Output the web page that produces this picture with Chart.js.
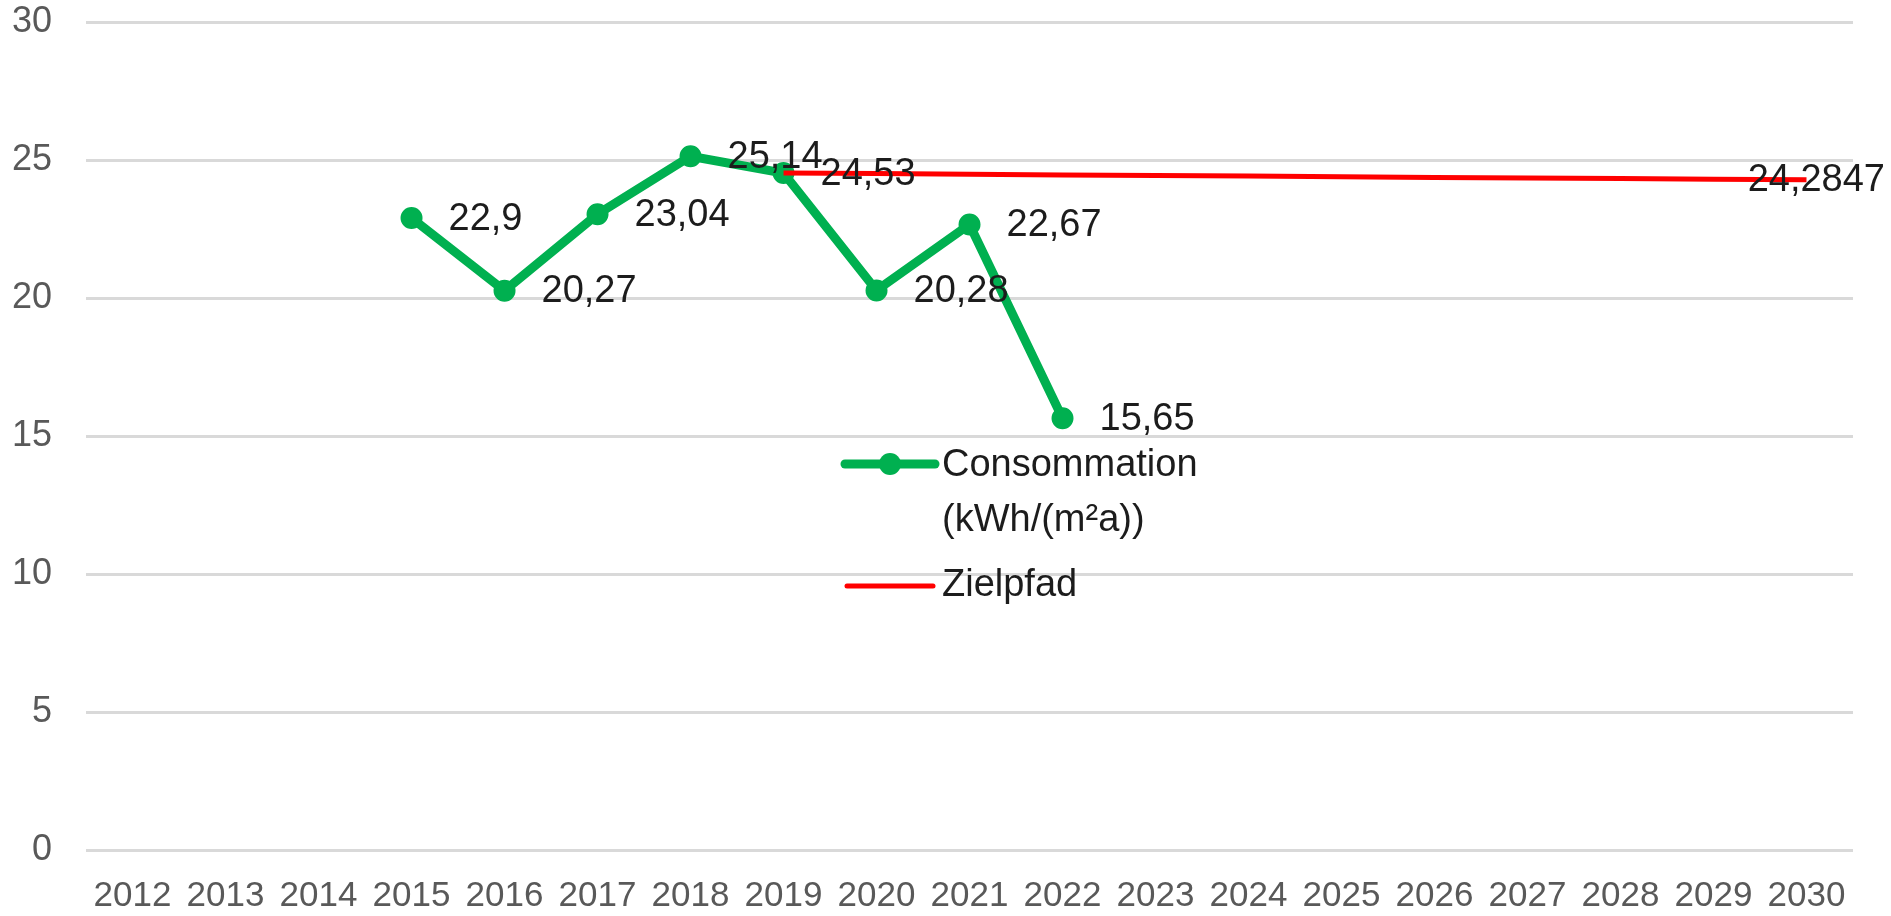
<!DOCTYPE html>
<html>
<head>
<meta charset="utf-8">
<title>Consommation</title>
<script src="https://cdn.jsdelivr.net/npm/chart.js@4.4.1/dist/chart.umd.min.js"></script>
<style>
    html, body { margin: 0; padding: 0; background: #ffffff; overflow: hidden; }
    #wrap { width: 1891px; height: 916px; position: relative; }
</style>
</head>
<body>
<div id="wrap"><canvas id="mainChart"></canvas></div>
<script>
"use strict";

const anos = ["2012", "2013", "2014", "2015", "2016", "2017", "2018", "2019", "2020", "2021",
    "2022", "2023", "2024", "2025", "2026", "2027", "2028", "2029", "2030"];

const consommation = [null, null, null, 22.9, 20.27, 23.04, 25.14, 24.53, 20.28, 22.67,
    15.65, null, null, null, null, null, null, null, null];

const zielpfad = [null, null, null, null, null, null, null, 24.53, 24.51, 24.49,
    24.46, 24.44, 24.42, 24.4, 24.37, 24.35, 24.33, 24.31, 24.2847];

// which points of each series get a value label
const labelsConsommation = [false, false, false, true, true, true, true, true, true, true,
    true, false, false, false, false, false, false, false, false];
const labelsZielpfad = [false, false, false, false, false, false, false, false, false, false,
    false, false, false, false, false, false, false, false, true];

const yTicks = [0, 5, 10, 15, 20, 25, 30];

const legendConsommation = ["Consommation", "(kWh/(m²a))"];
const legendZielpfad = ["Zielpfad"];

const verde = "#00b050";
const vermelho = "#ff0000";
const fonte = "'Liberation Sans', Arial, sans-serif";

const ctxMainChart = document.getElementById("mainChart");

// value labels to the right of each point (comma decimals)
const valueLabels = {
    id: "valueLabels",
    afterDatasetsDraw(chart) {
        const ctx = chart.ctx;
        ctx.save();
        ctx.font = `38px ${fonte}`;
        ctx.fillStyle = "#1c1c1c";
        ctx.textBaseline = "middle";
        ctx.textAlign = "left";
        chart.data.datasets.forEach((ds, i) => {
            const meta = chart.getDatasetMeta(i);
            meta.data.forEach((pt, j) => {
                if (!ds.showLabel[j] || ds.data[j] === null) return;
                const txt = String(ds.data[j]).replace(".", ",");
                const w = ctx.measureText(txt).width;
                const x = Math.min(pt.x + 37, chart.width - 6 - w);
                ctx.fillText(txt, x, pt.y + 1);
            });
        });
        ctx.restore();
    },
};

// legend drawn inside the plot, like the original
const innerLegend = {
    id: "innerLegend",
    afterDraw(chart) {
        const ctx = chart.ctx;
        const x0 = 845;
        const x1 = 935;
        const xt = 942;
        ctx.save();
        ctx.lineCap = "round";

        // Consommation
        let y = 464;
        ctx.strokeStyle = verde;
        ctx.lineWidth = 9;
        ctx.beginPath();
        ctx.moveTo(x0, y);
        ctx.lineTo(x1, y);
        ctx.stroke();
        ctx.fillStyle = verde;
        ctx.beginPath();
        ctx.arc((x0 + x1) / 2, y, 11, 0, Math.PI * 2);
        ctx.fill();

        ctx.font = `38px ${fonte}`;
        ctx.fillStyle = "#1c1c1c";
        ctx.textBaseline = "middle";
        legendConsommation.forEach((linha, k) => ctx.fillText(linha, xt, y + 2 + k * 55));

        // Zielpfad
        y = 586;
        ctx.strokeStyle = vermelho;
        ctx.lineWidth = 5;
        ctx.beginPath();
        ctx.moveTo(x0 + 2, y);
        ctx.lineTo(x1 - 2, y);
        ctx.stroke();
        legendZielpfad.forEach((linha, k) => ctx.fillText(linha, xt, y + k * 55));
        ctx.restore();
    },
};

const mainChart = new Chart(ctxMainChart, {
    type: "line",
    data: {
        labels: anos,
        datasets: [
            {
                label: legendConsommation.join(" "),
                data: consommation,
                showLabel: labelsConsommation,
                borderColor: verde,
                backgroundColor: verde,
                borderWidth: 9,
                pointRadius: 10,
                pointBorderWidth: 2,
                pointBackgroundColor: verde,
                pointBorderColor: verde,
                tension: 0,
                order: 1,
            },
            {
                label: legendZielpfad.join(" "),
                data: zielpfad,
                showLabel: labelsZielpfad,
                borderColor: vermelho,
                backgroundColor: vermelho,
                borderWidth: 5,
                pointRadius: 0,
                tension: 0,
                order: 0,
            },
        ],
    },
    options: {
        responsive: true,
        maintainAspectRatio: false,
        animation: false,
        layout: {
            padding: { left: 12, right: 38, top: 22, bottom: 0 },
        },
        plugins: {
            legend: { display: false },
            tooltip: { enabled: false },
        },
        scales: {
            x: {
                offset: true,
                grid: { display: false, drawTicks: true, tickLength: 27 },
                border: { display: false },
                ticks: {
                    color: "#595959",
                    padding: 0,
                    maxRotation: 0,
                    autoSkip: false,
                    font: { family: fonte, size: 35, lineHeight: 1.1 },
                },
            },
            y: {
                min: yTicks[0],
                max: yTicks[yTicks.length - 1],
                afterBuildTicks: (axis) => {
                    axis.ticks = yTicks.map((v) => ({ value: v }));
                },
                grid: {
                    color: "#d9d9d9",
                    lineWidth: 3,
                    drawTicks: true,
                    tickLength: 34,
                    tickColor: "rgba(0,0,0,0)",
                },
                border: { display: false },
                ticks: {
                    color: "#595959",
                    padding: 0,
                    font: { family: fonte, size: 36 },
                },
            },
        },
    },
    plugins: [valueLabels, innerLegend],
});
</script>
</body>
</html>
